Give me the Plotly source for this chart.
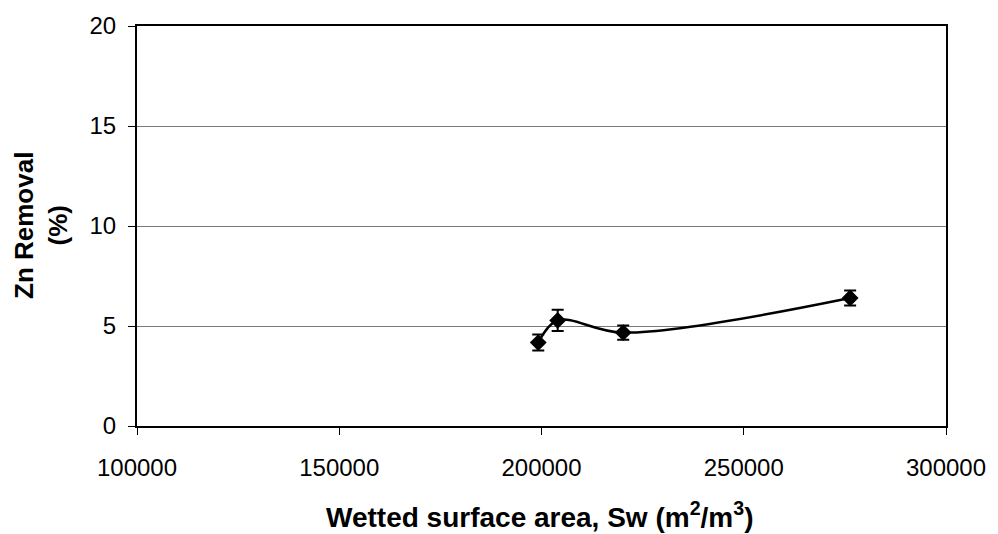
import plotly.graph_objects as go

# Wetted surface area (m2/m3) and zinc removal (%) with error half-widths
surface_area = [199200, 204000, 220200, 276300]
zn_removal = [4.17, 5.28, 4.67, 6.40]
zn_error = [0.40, 0.53, 0.36, 0.38]

x_ticks = [100000, 150000, 200000, 250000, 300000]
y_ticks = [0, 5, 10, 15, 20]

FONT = "Arial, Liberation Sans, sans-serif"

fig = go.Figure()
fig.add_trace(go.Scatter(
    x=surface_area,
    y=zn_removal,
    mode="lines+markers",
    line=dict(color="black", width=2.5, shape="spline", smoothing=1),
    marker=dict(symbol="diamond", size=13, color="black"),
    error_y=dict(type="data", array=zn_error, visible=True,
                 color="black", thickness=2, width=6),
    showlegend=False,
))

fig.update_layout(
    width=998, height=534,
    margin=dict(l=137, r=51, t=22, b=108),
    paper_bgcolor="white",
    plot_bgcolor="white",
    font=dict(family=FONT, size=24, color="black"),
    xaxis=dict(
        range=[100000, 300000],
        tickvals=x_ticks,
        ticktext=[str(v) for v in x_ticks],
        ticks="outside", ticklen=7, tickcolor="black", tickwidth=1,
        ticklabelstandoff=12,
        showgrid=False, zeroline=False,
        showline=True, mirror=True, linecolor="black", linewidth=2,
        tickfont=dict(size=24),
    ),
    yaxis=dict(
        range=[0, 20],
        tickvals=y_ticks,
        ticks="outside", ticklen=7, tickcolor="black", tickwidth=1,
        ticklabelstandoff=7,
        showgrid=True, gridcolor="#7a7a7a", gridwidth=1,
        zeroline=False,
        showline=True, mirror=True, linecolor="black", linewidth=2,
        tickfont=dict(size=24),
    ),
)

# Axis titles
fig.add_annotation(
    text="<b>Wetted surface area, Sw (m<sup>2</sup>/m<sup>3</sup>)</b>",
    xref="paper", yref="paper", x=0.5, y=0,
    xanchor="center", yanchor="middle", xshift=-2, yshift=-89,
    showarrow=False, font=dict(family=FONT, size=28, color="black"),
)
fig.add_annotation(
    text="<b>Zn Removal</b><br><b>(%)</b>",
    xref="paper", yref="paper", x=0, y=0.5,
    xanchor="center", yanchor="middle", xshift=-96,
    textangle=-90, showarrow=False,
    font=dict(family=FONT, size=26, color="black"),
)

fig.write_html("out.html")
